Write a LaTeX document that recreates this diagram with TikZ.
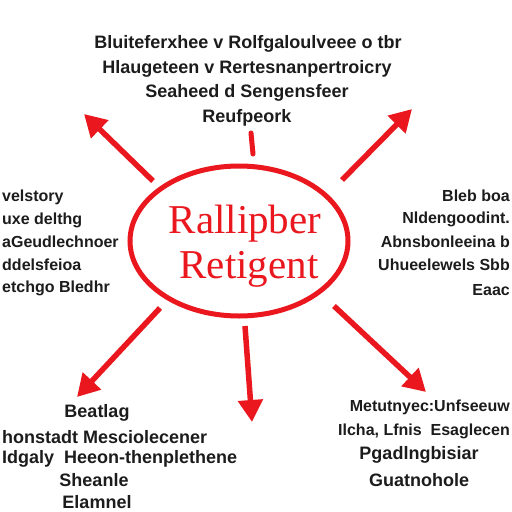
\documentclass[tikz,border=0pt]{standalone}
\usepackage{fontspec}
\setmainfont{Liberation Sans}
\newfontfamily\titlefont{Liberation Serif}
\usetikzlibrary{arrows.meta}
\usetikzlibrary{shapes.geometric}
\definecolor{mred}{RGB}{234,24,30}
\definecolor{ink}{RGB}{28,28,28}
\tikzset{
  lbl/.style={font=\bfseries\fontsize{18}{20}\selectfont, text=ink, inner sep=0pt},
  side/.style={font=\bfseries\fontsize{16}{18}\selectfont, text=ink, inner sep=0pt},
  hub/.style={draw=mred, line width=5pt, ellipse, minimum width=218pt, minimum height=150pt},
  ttl/.style={font=\titlefont\fontsize{41}{44}\selectfont, text=mred, inner sep=0pt},
  ray/.style={draw=mred, line width=5.5pt, -{Triangle[length=22pt,width=24pt]}},
  stub/.style={draw=mred, line width=5pt, line cap=round}
}
\begin{document}
\begin{tikzpicture}[x=1pt,y=-1pt]
\useasboundingbox (0,0) rectangle (512,512);
\fill[white] (0,0) rectangle (512,512);
% hub
\node[hub] (hub) at (239,241) {};
\node[ttl] (t1) at (245,224) {Rallipber};
\node[ttl] (t2) at (249,269) {Retigent};
% rays
\coordinate (a1s) at (153,181); \coordinate (a1e) at (84,114);
\coordinate (a2s) at (342,180); \coordinate (a2e) at (412,109);
\coordinate (a3s) at (160,308); \coordinate (a3e) at (77,397);
\coordinate (a4s) at (334,306); \coordinate (a4e) at (426,392);
\coordinate (a5s) at (245,326); \coordinate (a5e) at (252,422);
\coordinate (s1) at (251,133); \coordinate (s2) at (253,154);
\draw[ray] (a1s) -- (a1e);
\draw[ray] (a2s) -- (a2e);
\draw[ray] (a3s) -- (a3e);
\draw[ray] (a4s) -- (a4e);
\draw[ray] (a5s) -- (a5e);
\draw[stub] (s1) -- (s2);
% top block
\node[lbl] (u1) at (248,44) {Bluiteferxhee v Rolfgaloulveee o tbr};
\node[lbl] (u2) at (247,69) {Hlaugeteen v Rertesnanpertroicry};
\node[lbl] (u3) at (247,93) {Seaheed d Sengensfeer};
\node[lbl] (u4) at (247,118) {Reufpeork};
% left block
\node[side, anchor=west] (l1) at (2,197) {velstory};
\node[side, anchor=west] (l2) at (2,220) {uxe delthg};
\node[side, anchor=west] (l3) at (2,242) {aGeudlechnoer};
\node[side, anchor=west] (l4) at (2,265) {ddelsfeioa};
\node[side, anchor=west] (l5) at (2,288) {etchgo Bledhr};
% right block
\node[side, anchor=east] (r1) at (510,196) {Bleb boa};
\node[side, anchor=east] (r2) at (510,219) {Nldengoodint.};
\node[side, anchor=east] (r3) at (510,242) {Abnsbonleeina b};
\node[side, anchor=east] (r4) at (510,265) {Uhueelewels Sbb};
\node[side, anchor=east] (r5) at (510,290) {Eaac};
% bottom left block
\node[lbl] (b1) at (97,413) {Beatlag};
\node[lbl, anchor=west] (b2) at (2,437) {honstadt Mesciolecener};
\node[lbl, anchor=west] (b3) at (2,459) {Idgaly \ Heeon-thenplethene};
\node[lbl] (b4) at (94,480) {Sheanle};
\node[lbl] (b5) at (97,502) {Elamnel};
% bottom right block
\node[side, anchor=east] (c1) at (510,407) {Metutnyec:Unfseeuw};
\node[side, anchor=east] (c2) at (510,431) {Ilcha, Lfnis \ Esaglecen};
\node[lbl] (c3) at (419,455) {Pgadlngbisiar};
\node[lbl] (c4) at (419,480) {Guatnohole};
\end{tikzpicture}
\end{document}
